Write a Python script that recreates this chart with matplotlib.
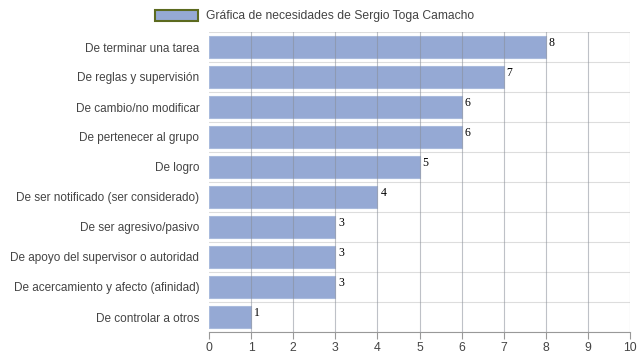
import matplotlib.pyplot as plt
from matplotlib.patches import Patch

categorias = ['De terminar una tarea', 'De reglas y supervisión', 'De cambio/no modificar',
              'De pertenecer al grupo', 'De logro', 'De ser notificado (ser considerado)',
              'De ser agresivo/pasivo', 'De apoyo del supervisor o autoridad',
              'De acercamiento y afecto (afinidad)', 'De controlar a otros']
valores = [8, 7, 6, 6, 5, 4, 3, 3, 3, 1]
ticks_x = list(range(0, 11))

plt.rcParams['font.family'] = ['Liberation Sans', 'DejaVu Sans']

fig = plt.figure(figsize=(6.39, 3.6), dpi=100)
ax = fig.add_axes([209/639, 1 - 332/360, 421/639, 300/360])

n = len(categorias)
pos = list(range(n))
ax.barh(pos, valores, height=0.73, color='#95a9d4', edgecolor='#a9bbdd', linewidth=0.8, zorder=1)

# lineas verticales encima de las barras
for t in ticks_x[1:]:
    ax.axvline(t, color='#8a8f99', linewidth=0.8, alpha=0.55, zorder=2)
# separadores horizontales
for i in range(n + 1):
    ax.axhline(i - 0.5, color='#dddddd', linewidth=0.8, zorder=0)

for p, v in zip(pos, valores):
    ax.text(v + 0.07, p - 0.15, str(v), fontsize=8.5, family='Liberation Serif', color='black',
            va='center', ha='left', zorder=3)

ax.set_xlim(0, 10)
ax.set_ylim(n - 0.5, -0.5)
ax.set_xticks(ticks_x)
ax.set_yticks(pos)
ax.set_yticklabels(categorias)
ax.tick_params(axis='y', length=0, pad=7, labelsize=8.5, labelcolor='#444444')
ax.tick_params(axis='x', length=5, width=0.8, color='#999999', labelsize=8.8, labelcolor='#444444', pad=2)
for s in ['left', 'right', 'top']:
    ax.spines[s].set_visible(False)
ax.spines['bottom'].set_color('#999999')
ax.spines['bottom'].set_linewidth(0.8)

handle = Patch(facecolor='#95a9d4', edgecolor='#5c6a1f', linewidth=1.5)
fig.legend([handle], ['Gráfica de necesidades de Sergio Toga Camacho'], loc='center',
           bbox_to_anchor=(0.492, 0.955), frameon=False, fontsize=8.7, labelcolor='#444444',
           handlelength=3.6, handleheight=1.0, handletextpad=0.6)

plt.savefig('out.png', dpi=100)
